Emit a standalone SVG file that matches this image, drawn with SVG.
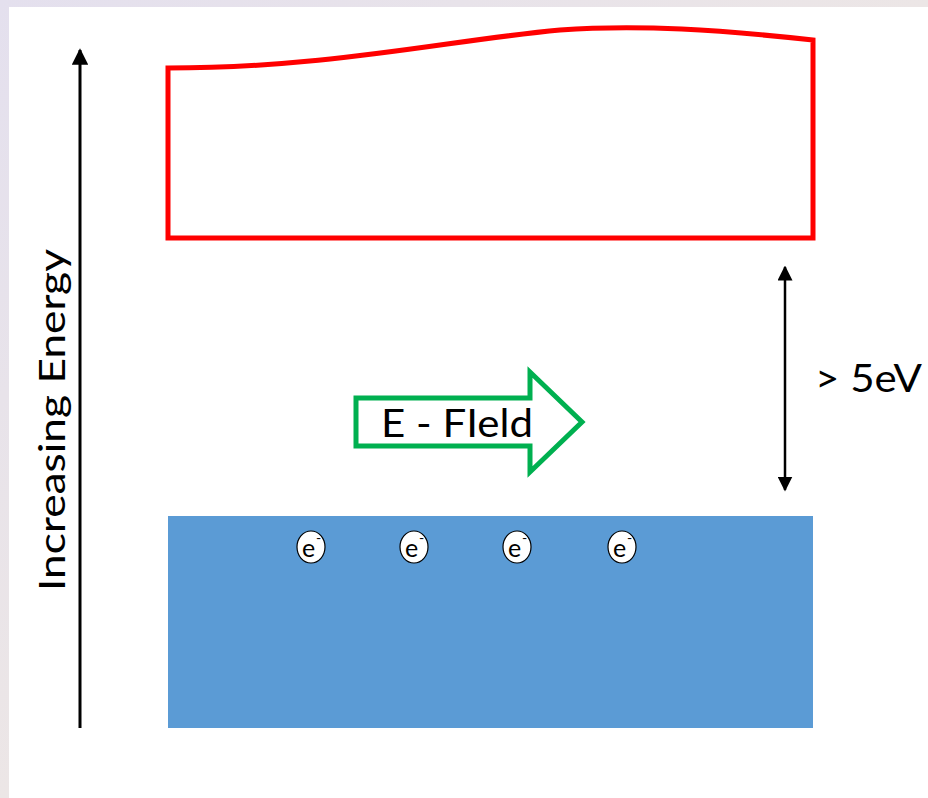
<svg xmlns="http://www.w3.org/2000/svg" width="928" height="798" viewBox="0 0 928 798">
<defs>
<style>
.lbl{font-family:Lato,"Open Sans","Liberation Sans",sans-serif;fill:#000}
.el{fill:#fff;stroke:#000;stroke-width:1.2}
</style>
<marker id="ah" viewBox="0 0 10 10" refX="9" refY="5" markerWidth="5.5" markerHeight="5.5" markerUnits="strokeWidth" orient="auto-start-reverse">
<path d="M0,0 L10,5 L0,10 Z" fill="#000"/>
</marker>
<marker id="ah2" viewBox="0 0 10 10" refX="9" refY="5" markerWidth="6" markerHeight="6" markerUnits="strokeWidth" orient="auto-start-reverse">
<path d="M0,0 L10,5 L0,10 Z" fill="#000"/>
</marker>
<linearGradient id="bg" x1="0" y1="0" x2="1" y2="1">
<stop offset="0" stop-color="#e4e0ee"/>
<stop offset="0.5" stop-color="#ece6e6"/>
<stop offset="1" stop-color="#e8e4ec"/>
</linearGradient>
</defs>
<rect x="0" y="0" width="928" height="798" fill="url(#bg)"/>
<rect x="9" y="7" width="919" height="791" fill="#fff"/>

<g id="conduction-band">
<path d="M168,238 L168,68 C330,68 450,40 560,30 C640,24 720,30 813,40 L813,238 Z" fill="none" stroke="#ff0000" stroke-width="5"/>
</g>

<g id="valence-band">
<rect x="168" y="516" width="645" height="212" fill="#5b9bd5"/>
</g>

<g id="electrons">
<g id="e1"><ellipse class="el" cx="311" cy="547" rx="14" ry="16"/><text class="lbl" x="302" y="557" font-size="25">e</text><text class="lbl" x="316" y="543" font-size="14">-</text></g>
<g id="e2"><ellipse class="el" cx="414" cy="547" rx="14" ry="16"/><text class="lbl" x="405" y="557" font-size="25">e</text><text class="lbl" x="419" y="543" font-size="14">-</text></g>
<g id="e3"><ellipse class="el" cx="517" cy="547" rx="14" ry="16"/><text class="lbl" x="508" y="557" font-size="25">e</text><text class="lbl" x="522" y="543" font-size="14">-</text></g>
<g id="e4"><ellipse class="el" cx="622" cy="547" rx="14" ry="16"/><text class="lbl" x="613" y="557" font-size="25">e</text><text class="lbl" x="627" y="543" font-size="14">-</text></g>
</g>

<g id="e-field">
<path d="M356,398 L530,398 L530,372 L582,422 L530,472 L530,446 L356,446 Z" fill="#fff" stroke="#00b050" stroke-width="5"/>
<text class="lbl" x="381" y="437" font-size="38" textLength="152" lengthAdjust="spacingAndGlyphs">E - FIeld</text>
</g>

<g id="connectors">
<line x1="80" y1="728" x2="80" y2="50" stroke="#000" stroke-width="3" marker-end="url(#ah)"/>
<line x1="785" y1="267" x2="785" y2="490" stroke="#000" stroke-width="2.5" marker-start="url(#ah2)" marker-end="url(#ah2)"/>
</g>

<g id="energy-label">
<text class="lbl" x="0" y="0" font-size="36" transform="translate(65,591) rotate(-90)" textLength="342" lengthAdjust="spacingAndGlyphs">Increasing Energy</text>
</g>

<g id="gap-label">
<text class="lbl" x="815" y="392" font-size="38" textLength="107" lengthAdjust="spacingAndGlyphs">&gt; 5eV</text>
</g>
</svg>
